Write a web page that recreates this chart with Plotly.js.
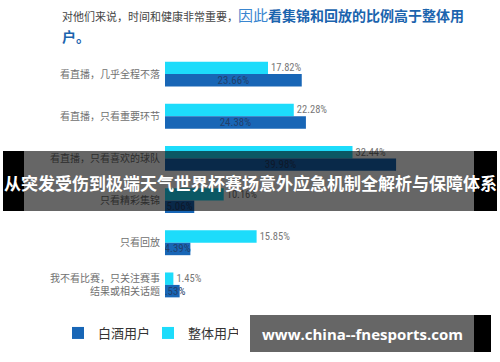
<!DOCTYPE html>
<html>
<head>
<meta charset="utf-8">
<script src="https://cdn.plot.ly/plotly-3.0.1.min.js"></script>
<style>html,body{margin:0;padding:0;background:#fff;}#chart{width:500px;height:362px;}</style>
</head>
<body>
<div id="chart"></div>
<script>
// ---- data ----
var categories = [
  '看直播，几乎全程不落',
  '看直播，只看重要环节',
  '看直播，只看喜欢的球队',
  '只看精彩集锦',
  '只看回放',
  '我不看比赛，只关注赛事<br>结果或相关话题'
];
var overallUsers = [17.82, 22.28, 32.44, 10.16, 15.85, 1.45];
var baijiuUsers = [23.66, 24.38, 39.98, 5.06, 4.39, 2.53];
var seriesNames = ['整体用户', '白酒用户'];

// ---- layout geometry ----
var W = 500, H = 362;
var L = 165, R = 46, T = 53, B = 56;
var PW = W - L - R, PH = H - T - B;
function px(x) { return (x - L) / PW; }
function py(y) { return 1 - (y - T) / PH; }

var cjk = '"Noto Sans CJK SC", "Noto Sans", sans-serif';
var narrow = '"Liberation Sans Narrow", "Roboto Condensed", "Noto Sans CJK SC", sans-serif';

var traces = [
  {
    type: 'bar', orientation: 'h', name: seriesNames[0],
    y: categories, x: overallUsers,
    marker: {color: '#1ddcfb'},
    text: overallUsers.map(function(v){return v.toFixed(2) + '%';}),
    textposition: 'outside', cliponaxis: false,
    textfont: {family: narrow, size: 11, color: '#777'},
    hoverinfo: 'skip', legendrank: 2
  },
  {
    type: 'bar', orientation: 'h', name: seriesNames[1],
    y: categories, x: baijiuUsers,
    marker: {color: '#1866b6'},
    text: baijiuUsers.map(function(v){return v.toFixed(2) + '%';}),
    textposition: 'inside', insidetextanchor: 'middle', constraintext: 'none', textangle: 0,
    textfont: {family: narrow, size: 11, color: '#22406c'},
    hoverinfo: 'skip', legendrank: 1
  }
];

var layout = {
  width: W, height: H,
  margin: {l: L, r: R, t: T, b: B, pad: 0},
  paper_bgcolor: '#fff', plot_bgcolor: '#fff',
  font: {family: cjk, color: '#666'},
  barmode: 'group', bargap: 0.41, bargroupgap: 0,
  showlegend: true,
  legend: {
    orientation: 'h', xref: 'container', yref: 'container',
    x: 58 / W, xanchor: 'left', y: 1 - 333 / H, yanchor: 'middle',
    entrywidth: 45, entrywidthmode: 'pixels',
    font: {family: cjk, size: 13, color: '#333'},
    itemclick: false, itemdoubleclick: false
  },
  xaxis: {range: [0, 50], visible: false, fixedrange: true},
  yaxis: {
    type: 'category', autorange: 'reversed', fixedrange: true,
    showgrid: false, zeroline: false, showline: false, ticks: '',
    ticklabelstandoff: 4,
    tickfont: {family: cjk, size: 10, color: '#707070'}
  },
  shapes: [
    {type: 'rect', xref: 'paper', yref: 'paper', layer: 'above', line: {width: 0},
     x0: px(24), x1: px(474), y0: py(151), y1: py(211), fillcolor: 'rgba(0,0,0,0.6)'},
    {type: 'rect', xref: 'paper', yref: 'paper', layer: 'above', line: {width: 0},
     x0: px(3), x1: px(24), y0: py(151), y1: py(211), fillcolor: '#000'},
    {type: 'rect', xref: 'paper', yref: 'paper', layer: 'above', line: {width: 0},
     x0: px(474), x1: px(497), y0: py(151), y1: py(211), fillcolor: '#000'},
    {type: 'rect', xref: 'paper', yref: 'paper', layer: 'above', line: {width: 0},
     x0: px(250), x1: px(474), y0: py(315), y1: py(352), fillcolor: '#666'},
    {type: 'rect', xref: 'paper', yref: 'paper', layer: 'above', line: {width: 0},
     x0: px(474), x1: px(491), y0: py(315), y1: py(352), fillcolor: '#000'}
  ],
  annotations: [
    {xref: 'paper', yref: 'paper', x: px(60), y: py(14), xanchor: 'left', yanchor: 'middle',
     showarrow: false, align: 'left',
     font: {family: cjk, size: 14, color: '#1b64ae'},
     text: '<span style="color:#444;font-size:11px">对他们来说，时间和健康非常重要，</span><span style="color:#3a86d0;font-size:15px">因此</span><b>看集锦和回放的比例高于整体用</b>'},
    {xref: 'paper', yref: 'paper', x: px(60), y: py(36), xanchor: 'left', yanchor: 'middle',
     showarrow: false, align: 'left',
     font: {family: cjk, size: 14, color: '#1b64ae'},
     text: '<b>户。</b>'},
    {xref: 'paper', yref: 'paper', x: px(250), y: py(182), xanchor: 'center', yanchor: 'middle',
     showarrow: false,
     font: {family: cjk, size: 17, color: '#fff'},
     text: '<b>从突发受伤到极端天气世界杯赛场意外应急机制全解析与保障体系</b>'},
    {xref: 'paper', yref: 'paper', x: px(260), y: py(334), xanchor: 'left', yanchor: 'middle',
     showarrow: false,
     font: {family: '"Open Sans", "DejaVu Sans", sans-serif', size: 15, color: '#fff'},
     text: '<b>www.china--fnesports.com</b>'}
  ]
};

Plotly.newPlot('chart', traces, layout, {displayModeBar: false, staticPlot: true});
</script>
</body>
</html>
